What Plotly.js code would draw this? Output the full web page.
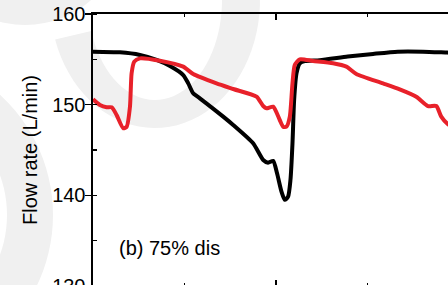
<!DOCTYPE html>
<html>
<head>
<meta charset="utf-8">
<script src="https://cdn.plot.ly/plotly-3.0.1.min.js"></script>
<style>
html,body{margin:0;padding:0;overflow:hidden;background:#fff;}
#chart{width:470px;height:330px;}
</style>
</head>
<body>
<div id="chart"></div>
<script>
// Series (x in axis units, y in L/min)
var blackX = [0, 0.295, 0.513, 0.695, 0.841, 0.986, 1.041, 1.095, 1.168, 1.423, 1.532, 1.750, 1.860, 1.914, 1.969, 2.012, 2.060, 2.096, 2.132, 2.158, 2.180, 2.198, 2.224, 2.260, 2.315, 2.478, 2.784, 3.061, 3.330, 3.606, 3.876, 4.0];
var blackY = [155.85, 155.77, 155.48, 154.93, 154.26, 153.27, 152.35, 151.25, 150.70, 148.68, 147.76, 145.74, 143.9, 143.6, 143.8, 142.4, 140.4, 139.5, 139.85, 141.7, 145.7, 150.5, 153.45, 154.55, 154.8, 154.9, 155.3, 155.6, 155.85, 155.85, 155.74, 155.7];
var redX = [0, 0.076, 0.149, 0.204, 0.258, 0.331, 0.368, 0.404, 0.422, 0.451, 0.513, 0.731, 0.986, 1.095, 1.350, 1.532, 1.787, 1.860, 1.896, 1.969, 2.041, 2.078, 2.114, 2.151, 2.180, 2.205, 2.260, 2.405, 2.624, 2.769, 2.878, 3.170, 3.352, 3.533, 3.661, 3.752, 3.806, 3.876, 3.952];
var redY = [150.59, 149.96, 149.71, 149.71, 148.86, 147.39, 147.57, 149.78, 153.46, 154.74, 155.11, 154.85, 154.19, 153.38, 152.35, 151.73, 150.88, 149.85, 149.6, 149.78, 148.31, 147.57, 147.57, 148.68, 152.35, 154.375, 155.0, 154.82, 154.56, 154.19, 153.38, 152.35, 151.69, 150.88, 149.85, 149.85, 148.68, 147.87, 147.4];
var yTickVals = [130, 140, 150, 160];
var yTickText = ['130', '140', '150', '160'];
var yTitle = 'Flow rate (L/min)';
var panelLabel = '(b) 75% dis';

var FONT = 'Arial, "Liberation Sans", sans-serif';
var L = 93, R = 11, T = 14, B = 44, FW = 470, FH = 330;
var PW = FW - L - R, PH = FH - T - B;
var WM = '#f0f0f0';
function xp(px){ return (px - L) / PW; }
function yp(py){ return (FH - B - py) / PH; }
// elliptical band (background watermark), angles in degrees, screen orientation
function band(cx, cy, ai, bi, ao, bo, a0, a1){
  var n = 48, outer = [], inner = [];
  for (var k = 0; k <= n; k++){
    var t = (a0 + (a1 - a0) * k / n) * Math.PI / 180;
    outer.push([cx + ao*Math.cos(t), cy + bo*Math.sin(t)]);
    inner.push([cx + ai*Math.cos(t), cy + bi*Math.sin(t)]);
  }
  var pts = outer.concat(inner.reverse());
  var d = pts.map(function(p, i){ return (i ? 'L' : 'M') + xp(p[0]).toFixed(5) + ',' + yp(p[1]).toFixed(5); }).join(' ') + ' Z';
  return {type:'path', xref:'paper', yref:'paper', layer:'below', path:d, fillcolor:WM, line:{width:0}};
}
function disc(cx, cy, r){
  return {type:'circle', xref:'paper', yref:'paper', layer:'below',
    x0:xp(cx-r), x1:xp(cx+r), y0:yp(cy+r), y1:yp(cy-r),
    line:{width:0}, fillcolor:WM};
}

var traces = [
  {x: blackX, y: blackY, mode:'lines', line:{color:'#000000', width:4, shape:'spline', smoothing:0.6}, hoverinfo:'skip', showlegend:false},
  {x: redX, y: redY, mode:'lines', line:{color:'#e8212a', width:4, shape:'spline', smoothing:0.6}, hoverinfo:'skip', showlegend:false}
];

var layout = {
  width: FW, height: FH,
  margin: {l:L, r:R, t:T, b:B, pad:0},
  paper_bgcolor:'#ffffff', plot_bgcolor:'rgba(0,0,0,0)',
  font:{family:FONT, size:20, color:'#000'},
  showlegend:false,
  xaxis:{range:[0,4], showline:true, linewidth:2.5, linecolor:'#000', mirror:'ticks',
    ticks:'inside', ticklen:6, tickwidth:1.5, tickcolor:'#000', tick0:0, dtick:2,
    minor:{dtick:1, ticks:'inside', ticklen:3, tickwidth:1.5, tickcolor:'#000'},
    showticklabels:false, showgrid:false, zeroline:false},
  yaxis:{range:[130,160], showline:true, linewidth:2.5, linecolor:'#000', mirror:true,
    ticks:'outside', ticklen:6, tickwidth:1.5, tickcolor:'#000',
    tickmode:'array', tickvals:yTickVals, ticktext:yTickText, ticklabelstandoff:-5,
    minor:{dtick:5, tick0:130, ticks:'inside', ticklen:4, tickwidth:1.5, tickcolor:'#000'},
    tickfont:{family:FONT, size:20, color:'#000'},
    showgrid:false, zeroline:false,
    title:{text:yTitle, font:{family:FONT, size:20, color:'#000'}, standoff:9}},
  annotations:[{x:0.262, y:134.2, xref:'x', yref:'y', text:panelLabel, showarrow:false,
    xanchor:'left', yanchor:'middle', font:{family:FONT, size:20, color:'#000'}}],
  shapes:[
    disc(25, -75, 100),
    band(155, 0, 67, 100, 105, 128, -40, 162),
    band(-110, 215, 117, 117, 163, 163, -80, 80)
  ]
};

Plotly.newPlot('chart', traces, layout, {staticPlot:true, displayModeBar:false});
</script>
</body>
</html>
